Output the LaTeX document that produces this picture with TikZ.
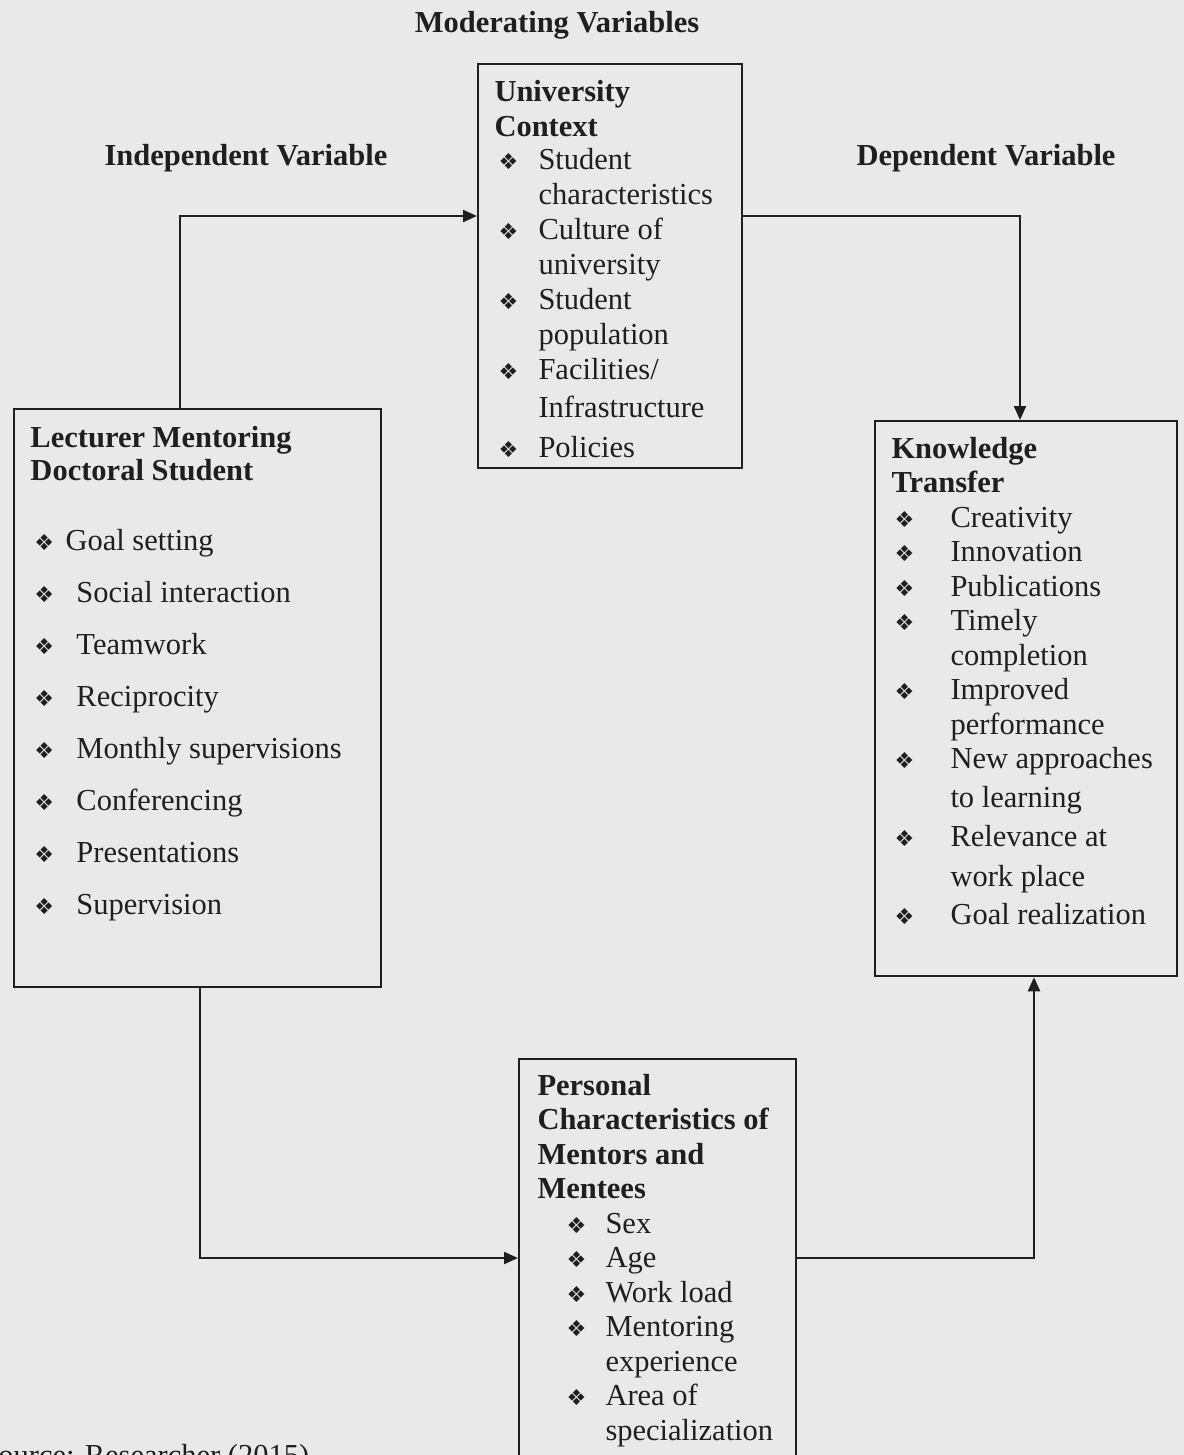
\documentclass[tikz,border=0pt]{standalone}
\usepackage{fontspec}
\setmainfont{Liberation Serif}
\newfontfamily\glyphfont{DejaVu Sans}
\usetikzlibrary{arrows.meta,calc,positioning}
\definecolor{Paper}{HTML}{E9E9E9}
\definecolor{Ink}{HTML}{1F1F1F}
\newlength\bulin
\newlength\bulw
\newcommand{\bul}{{\glyphfont\fontsize{8.8}{10}\selectfont ❖}}
\newcommand{\itm}[2][\bulw]{\makebox[#1][l]{\hspace*{\bulin}\bul}#2}
\newcommand{\cont}[1]{\hspace*{\bulw}#1}

\begin{document}
\begin{tikzpicture}[x=0.4pt,y=-0.4pt,
    frame/.style={draw=Ink,line width=0.9pt,anchor=north west,inner sep=0pt},
    content/.style={anchor=base west,inner sep=0pt,text=Ink},
    head/.style={inner sep=0pt,text=Ink,font=\fontsize{12.2}{14}\selectfont\bfseries},
    link/.style={draw=Ink,line width=0.9pt,-{Triangle[length=5.6pt,width=4.8pt]}}]
    \fill[Paper] (0,0) rectangle (1184,1455);
    \useasboundingbox (0,0) rectangle (1184,1455);

    % column headings
    \node[head] (modv) at (557,25) {Moderating Variables};
    \node[head] (indv) at (246,158) {Independent Variable};
    \node[head] (depv) at (986,158) {Dependent Variable};

    % frames
    \node[frame,minimum width=146.8pt,minimum height=231.2pt] (lmds) at (13,408) {};
    \node[frame,minimum width=105.6pt,minimum height=161.6pt] (uc) at (477,63) {};
    \node[frame,minimum width=120.8pt,minimum height=222pt] (kt) at (874,420) {};
    \node[frame,minimum width=110.8pt,minimum height=170pt] (pc) at (518,1058) {};

    % lecturer mentoring
    \node[content,font=\fontsize{12.2}{13.2}\selectfont] (lmdstext) at ($(lmds.north west)+(17,39)$)
      {\setlength\bulin{1.6pt}\setlength\bulw{18.4pt}%
       \begin{tabular}[t]{@{}l@{}}
         \textbf{Lecturer Mentoring}\\
         \textbf{Doctoral Student}\\[14.8pt]
         \itm[14pt]{Goal setting}\\[7.6pt]
         \itm{Social interaction}\\[7.6pt]
         \itm{Teamwork}\\[7.6pt]
         \itm{Reciprocity}\\[7.6pt]
         \itm{Monthly supervisions}\\[7.6pt]
         \itm{Conferencing}\\[7.6pt]
         \itm{Presentations}\\[7.6pt]
         \itm{Supervision}
       \end{tabular}};

    % university context
    \node[content,font=\fontsize{12.2}{14}\selectfont] (uctext) at ($(uc.north west)+(17,38)$)
      {\setlength\bulin{1.6pt}\setlength\bulw{17.6pt}%
       \begin{tabular}[t]{@{}l@{}}
         \textbf{University}\\
         \textbf{Context}\\[-0.8pt]
         \itm{Student}\\
         \cont{characteristics}\\
         \itm{Culture of}\\
         \cont{university}\\
         \itm{Student}\\
         \cont{population}\\
         \itm{Facilities/}\\[1.2pt]
         \cont{Infrastructure}\\[2pt]
         \itm{Policies}
       \end{tabular}};

    % knowledge transfer
    \node[content,font=\fontsize{12.2}{13.8}\selectfont] (kttext) at ($(kt.north west)+(17,38)$)
      {\setlength\bulin{1.2pt}\setlength\bulw{23.6pt}%
       \begin{tabular}[t]{@{}l@{}}
         \textbf{Knowledge}\\
         \textbf{Transfer}\\
         \itm{Creativity}\\
         \itm{Innovation}\\
         \itm{Publications}\\
         \itm{Timely}\\
         \cont{completion}\\
         \itm{Improved}\\
         \cont{performance}\\
         \itm{New approaches}\\[1.6pt]
         \cont{to learning}\\[2pt]
         \itm{Relevance at}\\[2pt]
         \cont{work place}\\[1.6pt]
         \itm{Goal realization}
       \end{tabular}};

    % personal characteristics
    \node[content,font=\fontsize{12.2}{13.8}\selectfont] (pctext) at ($(pc.north west)+(19,37)$)
      {\setlength\bulin{11.6pt}\setlength\bulw{27.2pt}%
       \begin{tabular}[t]{@{}l@{}}
         \textbf{Personal}\\
         \textbf{Characteristics of}\\
         \textbf{Mentors and}\\
         \textbf{Mentees}\\
         \itm{Sex}\\
         \itm{Age}\\
         \itm{Work load}\\
         \itm{Mentoring}\\
         \cont{experience}\\
         \itm{Area of}\\
         \cont{specialization}
       \end{tabular}};

    % connectors
    \draw[link] ($(lmds.north west)+(167,0)$) |- ($(uc.north west)+(0,153)$);
    \draw[link] ($(uc.north east)+(0,153)$) -| ($(kt.north west)+(146,0)$);
    \draw[link] ($(lmds.south west)+(187,0)$) |- ($(pc.north west)+(0,200)$);
    \draw[link] ($(pc.north east)+(0,200)$) -| ($(kt.south west)+(160,0)$);

    \node[content,font=\fontsize{12.2}{14}\selectfont] (src) at (-19,1465) {Source: Researcher (2015)};
\end{tikzpicture}
\end{document}
